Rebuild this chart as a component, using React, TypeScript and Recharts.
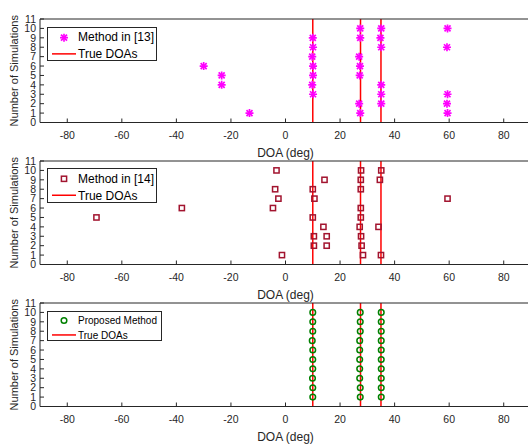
import React from 'react';
import {
  ScatterChart,
  Scatter,
  XAxis,
  YAxis,
  CartesianGrid,
  ReferenceLine,
  Legend,
} from 'recharts';

// DOA estimates (deg) and the simulation index each one belongs to
const method13X = [-30, -23.4, -23.4, -13.2, 10, 10.1, 9.8, 10.1, 10.1, 9.8, 10.1, 27.4, 27.4, 27.0, 27.3, 27.2, 27.0, 27.4, 35.1, 34.8, 35.1, 35.1, 35.1, 35.1, 59.4, 59.2, 59.4, 59.2, 59.4];
const method13Y = [6, 5, 4, 1, 9, 8, 7, 6, 5, 4, 3, 10, 9, 7, 6, 5, 2, 1, 10, 9, 8, 4, 3, 2, 10, 8, 3, 2, 1];

const method14X = [-69.3, -38, -4.6, -3.3, -3.8, -2.6, -1.3, 10, 10.6, 10, 10.4, 10.4, 14.3, 13.9, 15.1, 15.1, 27.7, 27.6, 27.6, 27.6, 27.6, 27.2, 27.7, 27.9, 28.4, 35.1, 34.6, 34.1, 35, 59.4];
const method14Y = [5, 6, 6, 10, 8, 7, 1, 8, 7, 5, 3, 2, 9, 4, 3, 2, 10, 9, 8, 6, 5, 4, 3, 2, 1, 10, 9, 4, 1, 7];

const proposedX = [10, 10, 10, 9.8, 10, 10, 10, 9.9, 10, 10, 27.4, 27.4, 27.4, 27.2, 27.2, 27.2, 27.2, 27.2, 27.4, 27.4, 35.1, 35.1, 35.1, 35.1, 35.1, 35.1, 35.1, 35.1, 35.1, 35.1];
const proposedY = [10, 9, 8, 7, 6, 5, 4, 3, 2, 1, 10, 9, 8, 7, 6, 5, 4, 3, 2, 1, 10, 9, 8, 7, 6, 5, 4, 3, 2, 1];

const trueDoas = [10, 27.5, 35];
const xTicks = [-80, -60, -40, -20, 0, 20, 40, 60, 80];
const yTicks = [0, 1, 2, 3, 4, 5, 6, 7, 8, 9, 10, 11];

const FONT = '"Liberation Sans", Arial, Helvetica, sans-serif';
const AXIS = '#262626';
const GRID = '#e3e3e3';

function toPoints(xs: number[], ys: number[]) {
  return xs.map((x, i) => ({ x, y: ys[i] }));
}

function Asterisk({ cx, cy }: any) {
  const r = 4;
  const d = r * 0.75;
  return (
    <g stroke="#ff00ff" strokeWidth={1.7}>
      <line x1={cx - r} y1={cy} x2={cx + r} y2={cy} />
      <line x1={cx} y1={cy - r} x2={cx} y2={cy + r} />
      <line x1={cx - d} y1={cy - d} x2={cx + d} y2={cy + d} />
      <line x1={cx - d} y1={cy + d} x2={cx + d} y2={cy - d} />
    </g>
  );
}

function Square({ cx, cy }: any) {
  return <rect x={cx - 2.6} y={cy - 2.6} width={5.2} height={5.2} fill="none" stroke="#a2142f" strokeWidth={1.5} />;
}

function Circle({ cx, cy }: any) {
  return <circle cx={cx} cy={cy} r={2.8} fill="none" stroke="#008000" strokeWidth={1.5} />;
}

interface PanelProps {
  top: number;
  points: Array<{ x: number; y: number }>;
  shape: (p: any) => React.ReactElement;
  name: string;
  legendTop: number;
  legendWidth: number;
  legendHeight: number;
  legendFont: number;
}

function Panel({ top, points, shape, name, legendTop, legendWidth, legendHeight, legendFont }: PanelProps) {
  const renderLegend = () => (
    <div
      style={{
        width: legendWidth,
        height: legendHeight,
        boxSizing: 'border-box',
        border: `1px solid ${AXIS}`,
        background: '#fff',
        fontFamily: FONT,
        fontSize: legendFont,
        color: '#000',
        position: 'relative',
      }}
    >
      <svg width={30} height={legendHeight} style={{ position: 'absolute', left: 0, top: 0 }}>
        {shape({ cx: 16, cy: legendHeight * 0.28 })}
        <line x1={4} x2={28} y1={legendHeight * 0.75} y2={legendHeight * 0.75} stroke="#ff0000" strokeWidth={1.5} />
      </svg>
      <div style={{ position: 'absolute', left: 30, top: legendHeight * 0.28, transform: 'translateY(-50%)', whiteSpace: 'nowrap' }}>{name}</div>
      <div style={{ position: 'absolute', left: 30, top: legendHeight * 0.75, transform: 'translateY(-50%)', whiteSpace: 'nowrap' }}>True DOAs</div>
    </div>
  );

  return (
    <div style={{ position: 'absolute', left: 0, top }}>
      <ScatterChart width={540} height={152} margin={{ top: 4, right: 8, left: 0, bottom: 7.5 }}>
        <CartesianGrid stroke={GRID} horizontalValues={yTicks} verticalValues={xTicks} />
        <XAxis
          xAxisId="b"
          type="number"
          dataKey="x"
          domain={[-90, 90]}
          ticks={xTicks}
          allowDataOverflow
          height={36}
          stroke={AXIS}
          tickSize={-4}
          tickMargin={13.5}
          tick={{ fill: AXIS, fontSize: 10.5, fontFamily: FONT }}
          label={{ value: 'DOA (deg)', position: 'insideBottom', offset: 2, fill: AXIS, fontSize: 12, fontFamily: FONT }}
        />
        <XAxis
          xAxisId="t"
          orientation="top"
          type="number"
          domain={[-90, 90]}
          ticks={xTicks}
          height={1}
          stroke={AXIS}
          tickSize={-4}
          tick={false}
        />
        <YAxis
          yAxisId="l"
          type="number"
          dataKey="y"
          domain={[0, 11]}
          ticks={yTicks}
          interval={0}
          width={40}
          stroke={AXIS}
          tickSize={-4}
          tickMargin={8}
          tick={{ fill: AXIS, fontSize: 10.5, fontFamily: FONT }}
          label={{ value: 'Number of Simulations', angle: -90, position: 'insideLeft', offset: 14, fill: AXIS, fontSize: 11, fontFamily: FONT, style: { textAnchor: 'middle' } }}
        />
        <YAxis
          yAxisId="r"
          orientation="right"
          type="number"
          domain={[0, 11]}
          ticks={yTicks}
          width={1}
          stroke={AXIS}
          tickSize={-4}
          tick={false}
        />
        <Scatter xAxisId="b" yAxisId="l" data={points} shape={shape} isAnimationActive={false} />
        {trueDoas.map((d) => (
          <ReferenceLine key={d} xAxisId="b" yAxisId="l" x={d} stroke="#ff0000" strokeWidth={1.5} />
        ))}
        <Legend
          layout="vertical"
          align="center"
          verticalAlign="middle"
          content={renderLegend}
          wrapperStyle={{ left: 47, top: legendTop, width: legendWidth }}
        />
      </ScatterChart>
    </div>
  );
}

export default function App() {
  return (
    <div style={{ position: 'absolute', left: 0, top: 0, width: 528, height: 445, overflow: 'hidden', background: '#fff' }}>
      <Panel
        top={14}
        points={toPoints(method13X, method13Y)}
        shape={(p) => <Asterisk {...p} />}
        name="Method in [13]"
        legendTop={12.7}
        legendWidth={110}
        legendHeight={34.5}
        legendFont={12}
      />
      <Panel
        top={155.7}
        points={toPoints(method14X, method14Y)}
        shape={(p) => <Square {...p} />}
        name="Method in [14]"
        legendTop={12.6}
        legendWidth={110}
        legendHeight={35}
        legendFont={12}
      />
      <Panel
        top={297.7}
        points={toPoints(proposedX, proposedY)}
        shape={(p) => <Circle {...p} />}
        name="Proposed Method"
        legendTop={13}
        legendWidth={115}
        legendHeight={30.6}
        legendFont={10}
      />
    </div>
  );
}
